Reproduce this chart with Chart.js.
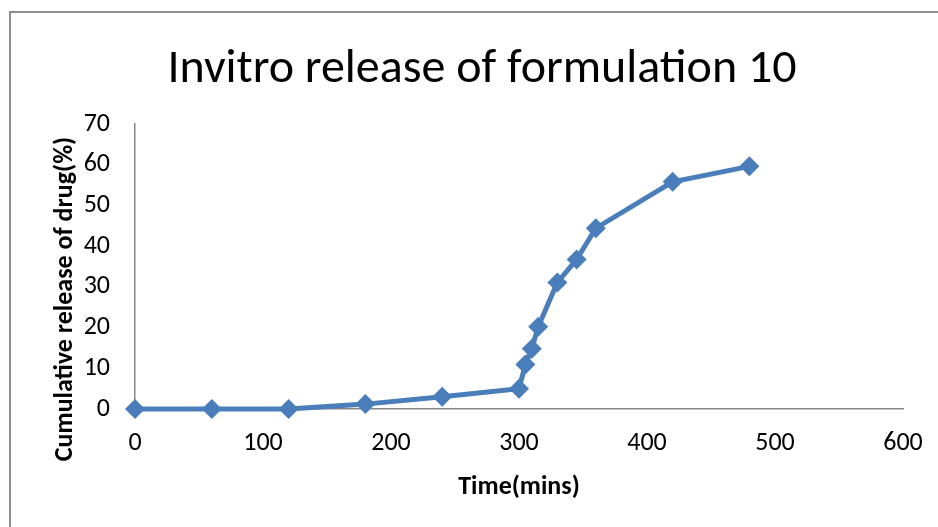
<!DOCTYPE html>
<html>
<head>
<meta charset="utf-8">
<script src="https://cdn.jsdelivr.net/npm/chart.js@4.4.0/dist/chart.umd.min.js"></script>
<style>
  html, body { margin: 0; padding: 0; background: #fff; overflow: hidden; }
  #wrap { position: relative; width: 938px; height: 527px; }
  #frame {
    position: absolute; left: 9px; top: 11px; width: 960px; height: 560px;
    border: 2px solid #8e8e8e; pointer-events: none;
  }
</style>
</head>
<body>
<div id="wrap">
  <canvas id="releaseChart" width="938" height="527"></canvas>
  <div id="frame"></div>
</div>
<script>
  // time points (mins) and cumulative release (%)
  var timeMins = [0, 60, 120, 180, 240, 300, 305, 310, 315, 330, 345, 360, 420, 480];
  var releasePct = [0, 0, 0, 1.2, 3.0, 5.0, 10.9, 14.8, 20.2, 31.1, 36.7, 44.4, 55.8, 59.6];
  var xTicks = [0, 100, 200, 300, 400, 500, 600];
  var yTicks = [0, 10, 20, 30, 40, 50, 60, 70];

  var chartTitle = 'Invitro release of formulation 10';
  var yTitle = 'Cumulative release of drug(%)';
  var xTitle = 'Time(mins)';

  var fontFamily = "Carlito, Lato, 'Open Sans', sans-serif";
  var blue = '#4a7ebb';

  // chart title and y axis title sit off-centre in the original, so draw them here
  var titlesPlugin = {
    id: 'titles',
    afterDraw: function (chart) {
      var ctx = chart.ctx;
      ctx.save();
      ctx.fillStyle = '#000';
      ctx.textAlign = 'center';
      ctx.font = '48px ' + fontFamily;
      ctx.textBaseline = 'alphabetic';
      ctx.fillText(chartTitle, 482, 82);

      ctx.translate(65, 299);
      ctx.rotate(-Math.PI / 2);
      ctx.font = 'bold 26px ' + fontFamily;
      ctx.textBaseline = 'middle';
      ctx.fillText(yTitle, 0, 0);
      ctx.restore();
    }
  };

  var points = timeMins.map(function (t, i) { return { x: t, y: releasePct[i] }; });

  new Chart(document.getElementById('releaseChart'), {
    type: 'line',
    data: {
      datasets: [{
        label: 'Formulation 10',
        data: points,
        borderColor: blue,
        backgroundColor: blue,
        borderWidth: 5,
        tension: 0,
        pointStyle: 'rectRot',
        pointRadius: 10,
        pointBorderWidth: 0,
        pointBackgroundColor: blue,
        fill: false,
        clip: false
      }]
    },
    options: {
      responsive: false,
      animation: false,
      layout: { padding: { left: 0, right: 35, top: 124, bottom: 0 } },
      scales: {
        x: {
          type: 'linear',
          min: 0,
          max: 600,
          afterFit: function (scale) {
            scale.height = 118;
            scale.paddingLeft = 0;
            scale.paddingRight = 0;
          },
          afterBuildTicks: function (scale) {
            scale.ticks = xTicks.map(function (v) { return { value: v }; });
          },
          border: { display: true, color: '#868686', width: 1.5 },
          grid: { display: false, drawTicks: false },
          ticks: {
            padding: 19,
            color: '#000',
            maxRotation: 0,
            font: { family: fontFamily, size: 26 }
          },
          title: {
            display: true,
            text: xTitle,
            color: '#000',
            padding: { top: 0, bottom: 24 },
            font: { family: fontFamily, size: 26, weight: 'bold' }
          }
        },
        y: {
          min: 0,
          max: 70,
          afterFit: function (scale) { scale.width = 135; },
          afterBuildTicks: function (scale) {
            scale.ticks = yTicks.map(function (v) { return { value: v }; });
          },
          border: { display: true, color: '#868686', width: 1.5 },
          grid: { display: false, drawTicks: false },
          ticks: {
            padding: 25,
            color: '#000',
            font: { family: fontFamily, size: 26 }
          }
        }
      },
      plugins: {
        legend: { display: false },
        tooltip: { enabled: false },
        title: { display: false }
      }
    },
    plugins: [titlesPlugin]
  });
</script>
</body>
</html>
